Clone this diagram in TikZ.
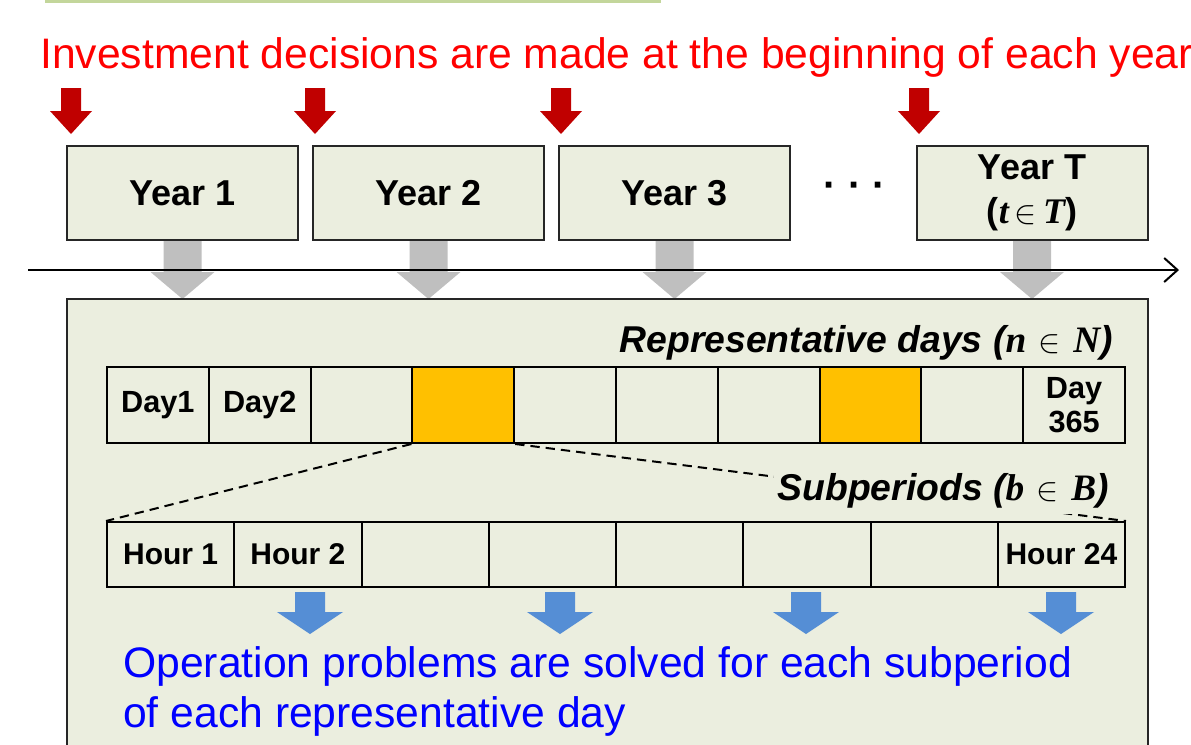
\documentclass[tikz,border=0pt]{standalone}
\usepackage{amsmath}
\usepackage{fontspec}
\setmainfont{Liberation Sans}
\newfontfamily\mathserif{Liberation Serif}
\usetikzlibrary{arrows.meta}
\definecolor{bgol}{HTML}{EBEEDF}
\definecolor{redarr}{HTML}{C00000}
\definecolor{bluearr}{HTML}{558ED5}
\definecolor{grayarr}{HTML}{BFBFBF}
\definecolor{orng}{HTML}{FFC000}
\definecolor{redtxt}{HTML}{FF0000}
\definecolor{bluetxt}{HTML}{0000FF}
\definecolor{topline}{HTML}{C3D69B}
\newcommand{\mv}[1]{{\mathserif\bfseries\itshape #1}}
\tikzset{
  yearbox/.style={draw=black!85, line width=1.5pt, fill=bgol, minimum width=173.25pt, minimum height=70.5pt, inner sep=0pt, font=\fontsize{27}{30}\selectfont\bfseries, align=center},
  daycell/.style={draw=black, line width=1.5pt, fill=bgol, minimum width=76.35pt, minimum height=57pt, inner sep=0pt, font=\fontsize{23}{26}\selectfont\bfseries, align=center},
  hourcell/.style={draw=black, line width=1.5pt, fill=bgol, minimum width=95.44pt, minimum height=48.75pt, inner sep=0pt, font=\fontsize{22.5}{25}\selectfont\bfseries},
  bigbox/.style={draw=black!85, line width=1.5pt, fill=bgol},
  hdr/.style={inner sep=0pt, font=\fontsize{28}{30}\selectfont\bfseries\itshape},
  dashline/.style={line width=1.5pt, dash pattern=on 7pt off 4.5pt},
  bluetext/.style={anchor=base west, inner sep=0pt, text=bluetxt, font=\fontsize{32}{38}\selectfont},
}
\begin{document}
\begin{tikzpicture}[x=0.75pt,y=-0.75pt]
\useasboundingbox (0,0) rectangle (1191,744);
\clip (0,0) rectangle (1191,744);
% top green line
\coordinate (gl) at (45,1);
\coordinate (gr) at (661,1);
\draw[topline, line width=2.5pt] (gl) -- (gr);
% red title
\node[anchor=base west, inner sep=0pt, text=redtxt, font=\fontsize{32}{36}\selectfont] (title) at (40,68) {Investment decisions are made at the beginning of each year};
% red arrows
\foreach \cx in {71,315,561,919}{
  \fill[redarr] (\cx-10,88) -- (\cx+10,88) -- (\cx+10,111) -- (\cx+21,111) -- (\cx,134) -- (\cx-21,111) -- (\cx-10,111) -- cycle;
}
% gray arrows
\foreach \cx in {182.5,428.5,674.5,1032}{
  \fill[grayarr] (\cx-19,241) -- (\cx+19,241) -- (\cx+19,272) -- (\cx+32,272) -- (\cx,299) -- (\cx-32,272) -- (\cx-19,272) -- cycle;
}
% year boxes
\node[yearbox] (y1) at (182.5,193) {Year 1};
\node[yearbox] (y2) at (428.5,193) {Year 2};
\node[yearbox] (y3) at (674.5,193) {Year 3};
\node[yearbox] (yT) at (1032,193) {Year T\\[3pt](\mv{t}\,$\in$\,\mv{T})};
\node[inner sep=0pt, font=\fontsize{30}{30}\selectfont\bfseries] (dots) at (855,190) {\textperiodcentered\ \textperiodcentered\ \textperiodcentered};
% time axis
\coordinate (axL) at (28,270);
\coordinate (axR) at (1179,270);
\draw[line width=1.5pt, -{Straight Barb[length=10pt,width=18pt,line width=1.5pt]}] (axL) -- (axR);
% big box
\draw[bigbox] (67,299) rectangle (1148,770);
% representative days header
\node[hdr, anchor=base east] (rd) at (1113,352) {Representative days (\mv{n}\,\,$\in$\,\,\mv{N})};
% day cells
\foreach \i/\lab/\fc in {1/Day1/bgol,2/Day2/bgol,3//bgol,4//orng,5//bgol,6//bgol,7//bgol,8//orng,9//bgol}{
  \node[daycell, fill=\fc] (d\i) at ({107+101.8*(\i-0.5)},405) {\lab};
}
\node[daycell] (d10) at ({107+101.8*9.5},405) {Day\\365};
% hour cells
\foreach \i/\lab in {1/Hour 1,2/Hour 2,3/,4/,5/,6/,7/,8/Hour 24}{
  \node[hourcell] (h\i) at ({107+127.25*(\i-0.5)},554.5) {\lab};
}
% dashed zoom lines
\draw[dashline] (d4.south west) -- (h1.north west);
\draw[dashline] (d4.south east) -- (h8.north east);
% subperiods header (covers the dashed line)
\node[hdr, anchor=base east, fill=bgol, inner xsep=3pt, inner ysep=5pt] (sp) at (1113,500) {Subperiods (\mv{b}\,\,$\in$\,\,\mv{B})};
% blue arrows
\foreach \cx in {310,560,806,1061}{
  \fill[bluearr] (\cx-15,592) -- (\cx+15,592) -- (\cx+15,612) -- (\cx+33,612) -- (\cx,634) -- (\cx-33,612) -- (\cx-15,612) -- cycle;
}
% blue text
\node[bluetext] (op1) at (123,677) {Operation problems are solved for each subperiod};
\node[bluetext] (op2) at (123,727) {of each representative day};
\end{tikzpicture}
\end{document}
